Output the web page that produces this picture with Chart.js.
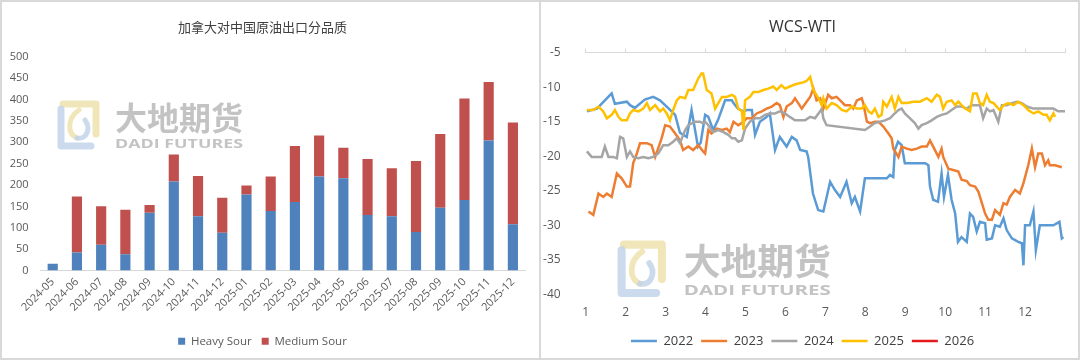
<!DOCTYPE html>
<html><head><meta charset="utf-8">
<script src="https://cdn.jsdelivr.net/npm/chart.js@4"></script>
<style>
html,body{margin:0;padding:0;background:#fff;overflow:hidden}
#wrap{position:relative;width:1080px;height:361px;background:#fff}
canvas{position:absolute;top:0}
.frame{position:absolute;border:2px solid #d9d9d9;box-sizing:border-box;pointer-events:none}
</style></head><body>
<div id="wrap">
<canvas id="c1" width="540" height="361" style="left:0"></canvas>
<canvas id="c2" width="540" height="361" style="left:540px"></canvas>
<div class="frame" style="left:0;top:0;width:541px;height:360px"></div>
<div class="frame" style="left:539px;top:0;width:541px;height:360px"></div>
</div>
<script>
// ---- Left chart data ----
const exportMonths = ['2024-05','2024-06','2024-07','2024-08','2024-09','2024-10','2024-11','2024-12','2025-01','2025-02','2025-03','2025-04','2025-05','2025-06','2025-07','2025-08','2025-09','2025-10','2025-11','2025-12'];
const heavySour  = [16,42,60,38,135,208,127,88,178,139,160,220,216,130,127,90,147,165,304,108];
const mediumSour = [0,131,90,104,18,63,94,82,21,81,131,96,71,131,112,166,172,237,137,238];

// ---- Right chart data (x = month position, y = WCS-WTI spread) ----
const monthLabels = ['1','2','3','4','5','6','7','8','9','10','11','12'];
const wcs2022 = [[1.03,-13.5],[1.28,-13.1],[1.65,-10.9],[1.73,-12.4],[2.03,-12.1],[2.11,-12.6],[2.23,-13.0],[2.48,-11.8],[2.69,-11.4],[2.86,-11.9],[3.06,-13.0],[3.24,-14.0],[3.36,-16.6],[3.53,-17.2],[3.65,-13.3],[3.81,-18.6],[3.88,-18.0],[3.99,-14.0],[4.07,-14.3],[4.19,-16.2],[4.31,-14.8],[4.49,-11.9],[4.66,-11.9],[4.70,-12.3],[4.81,-13.1],[4.94,-13.5],[5.03,-13.3],[5.16,-13.3],[5.24,-16.9],[5.36,-15.0],[5.53,-14.3],[5.61,-13.8],[5.74,-19.1],[5.86,-17.2],[6.03,-18.6],[6.16,-17.2],[6.28,-17.7],[6.37,-19.1],[6.53,-19.3],[6.57,-20.1],[6.69,-25.4],[6.82,-27.8],[6.95,-28.0],[7.12,-23.7],[7.24,-24.9],[7.37,-25.9],[7.53,-23.7],[7.66,-26.8],[7.74,-25.9],[7.87,-28.0],[7.99,-23.2],[8.16,-23.2],[8.37,-23.2],[8.54,-23.2],[8.62,-22.7],[8.70,-23.0],[8.74,-19.1],[8.82,-17.9],[8.91,-18.4],[8.99,-21.0],[9.12,-21.0],[9.29,-21.0],[9.50,-21.0],[9.58,-21.3],[9.62,-24.4],[9.70,-26.3],[9.82,-26.6],[9.91,-22.5],[9.97,-25.9],[10.07,-22.7],[10.16,-26.3],[10.25,-28.3],[10.32,-32.4],[10.41,-31.7],[10.54,-32.4],[10.62,-28.3],[10.70,-28.8],[10.79,-30.9],[10.87,-29.5],[11.00,-29.7],[11.04,-32.1],[11.17,-31.9],[11.25,-30.0],[11.37,-30.2],[11.46,-29.0],[11.54,-30.7],[11.67,-31.9],[11.83,-32.4],[11.92,-32.6],[11.96,-35.8],[12.00,-30.0],[12.12,-30.0],[12.21,-28.0],[12.27,-33.6],[12.37,-30.0],[12.54,-30.0],[12.71,-30.0],[12.86,-29.5],[12.92,-31.9],[12.96,-31.7]];
const wcs2023 = [[1.07,-28.0],[1.19,-28.5],[1.32,-25.4],[1.44,-25.9],[1.53,-25.4],[1.65,-25.9],[1.78,-22.5],[1.90,-23.2],[2.03,-24.4],[2.11,-24.4],[2.19,-21.0],[2.28,-19.6],[2.36,-18.1],[2.53,-18.1],[2.65,-18.4],[2.74,-20.1],[2.86,-18.1],[2.90,-17.4],[2.99,-15.5],[3.11,-15.7],[3.24,-16.7],[3.36,-17.7],[3.44,-19.1],[3.57,-18.6],[3.69,-19.1],[3.82,-18.4],[3.94,-19.3],[3.99,-19.6],[4.07,-16.2],[4.15,-16.7],[4.28,-16.0],[4.41,-16.2],[4.53,-16.0],[4.61,-16.5],[4.70,-15.0],[4.82,-15.5],[4.95,-15.0],[5.03,-14.5],[5.16,-14.5],[5.28,-13.8],[5.41,-13.5],[5.53,-13.1],[5.66,-12.8],[5.78,-12.3],[5.86,-12.6],[5.95,-14.3],[6.03,-12.8],[6.16,-12.3],[6.24,-11.6],[6.32,-12.3],[6.41,-13.1],[6.53,-12.1],[6.62,-11.4],[6.70,-10.2],[6.78,-11.9],[6.87,-11.6],[6.95,-13.1],[7.07,-11.1],[7.16,-11.6],[7.28,-11.4],[7.37,-11.9],[7.49,-12.6],[7.62,-12.6],[7.70,-13.1],[7.79,-11.9],[7.91,-11.6],[7.95,-12.3],[8.04,-15.0],[8.12,-15.2],[8.24,-15.0],[8.33,-15.0],[8.45,-15.7],[8.58,-16.7],[8.66,-17.4],[8.70,-18.9],[8.83,-20.1],[8.91,-18.6],[9.04,-18.9],[9.16,-19.1],[9.29,-18.9],[9.41,-18.6],[9.54,-18.6],[9.62,-17.7],[9.70,-18.6],[9.83,-20.1],[9.91,-18.9],[9.95,-20.1],[10.08,-21.8],[10.20,-22.0],[10.33,-22.2],[10.41,-23.4],[10.54,-23.6],[10.62,-24.2],[10.75,-24.4],[10.83,-25.1],[10.91,-26.6],[11.00,-28.3],[11.08,-29.2],[11.17,-29.2],[11.25,-27.8],[11.37,-28.5],[11.46,-26.8],[11.54,-27.0],[11.62,-25.9],[11.75,-24.9],[11.87,-25.4],[11.96,-23.9],[12.08,-21.3],[12.17,-18.9],[12.25,-21.6],[12.33,-19.6],[12.42,-19.6],[12.50,-21.3],[12.58,-20.6],[12.62,-21.3],[12.75,-21.3],[12.92,-21.6]];
const wcs2024 = [[1.03,-19.3],[1.15,-20.1],[1.28,-20.1],[1.40,-20.1],[1.48,-18.6],[1.57,-20.1],[1.69,-20.1],[1.78,-20.3],[1.86,-17.2],[1.94,-17.4],[2.03,-20.1],[2.11,-19.3],[2.19,-20.1],[2.32,-20.3],[2.44,-20.1],[2.57,-20.3],[2.69,-20.1],[2.82,-19.6],[2.94,-18.4],[3.07,-18.4],[3.19,-17.9],[3.28,-17.4],[3.36,-18.1],[3.49,-16.2],[3.57,-15.5],[3.74,-15.0],[3.86,-15.0],[3.94,-15.2],[3.99,-15.0],[4.07,-15.5],[4.19,-16.5],[4.32,-16.2],[4.45,-16.5],[4.57,-16.9],[4.66,-17.4],[4.74,-17.4],[4.82,-17.9],[4.91,-17.7],[4.99,-16.0],[5.11,-15.0],[5.24,-14.5],[5.36,-14.5],[5.49,-14.0],[5.61,-13.8],[5.74,-13.8],[5.86,-13.5],[5.99,-13.8],[6.11,-14.3],[6.24,-14.8],[6.37,-14.8],[6.49,-14.8],[6.62,-14.3],[6.74,-14.5],[6.87,-13.5],[6.91,-13.1],[6.95,-14.5],[7.03,-15.5],[7.99,-16.2],[8.12,-15.7],[8.24,-15.2],[8.37,-15.0],[8.49,-14.8],[8.62,-14.5],[8.70,-14.0],[8.83,-13.3],[8.91,-13.1],[8.99,-13.8],[9.12,-14.5],[9.24,-15.2],[9.33,-16.0],[9.41,-15.5],[9.54,-15.2],[9.66,-14.8],[9.79,-14.3],[9.91,-14.0],[10.04,-13.8],[10.16,-13.3],[10.29,-12.8],[10.41,-12.8],[10.54,-13.1],[10.66,-12.6],[10.79,-12.6],[10.87,-12.6],[10.95,-14.5],[11.04,-13.1],[11.12,-13.5],[11.21,-13.3],[11.33,-15.0],[11.42,-12.6],[11.54,-12.6],[11.67,-12.3],[11.79,-12.1],[11.92,-12.3],[12.04,-12.8],[12.21,-13.1],[12.37,-13.1],[12.54,-13.1],[12.71,-13.1],[12.83,-13.5],[13.0,-13.5]];
const wcs2025 = [[1.03,-13.3],[1.19,-13.3],[1.32,-12.8],[1.44,-13.5],[1.53,-14.5],[1.65,-14.0],[1.73,-13.3],[1.82,-14.3],[1.90,-14.8],[2.03,-14.8],[2.11,-13.8],[2.19,-13.3],[2.32,-13.5],[2.44,-13.1],[2.53,-12.3],[2.61,-13.3],[2.74,-12.6],[2.86,-13.5],[2.94,-13.1],[3.03,-13.8],[3.11,-14.8],[3.19,-13.3],[3.28,-11.9],[3.36,-11.4],[3.49,-11.6],[3.57,-10.4],[3.69,-10.4],[3.82,-8.7],[3.90,-8.0],[3.94,-8.0],[4.03,-10.4],[4.15,-10.9],[4.24,-13.1],[4.32,-12.3],[4.41,-11.4],[4.53,-11.4],[4.66,-11.1],[4.74,-11.4],[4.82,-13.1],[4.91,-13.5],[4.95,-16.2],[4.99,-11.9],[5.11,-11.4],[5.20,-10.7],[5.32,-10.7],[5.45,-10.4],[5.57,-10.2],[5.70,-9.9],[5.78,-10.4],[5.90,-9.7],[5.99,-10.2],[6.11,-9.9],[6.24,-9.6],[6.37,-9.4],[6.45,-9.3],[6.53,-9.1],[6.62,-8.5],[6.70,-10.4],[6.83,-11.6],[6.91,-12.6],[6.95,-11.6],[7.03,-13.1],[7.16,-12.3],[7.28,-12.6],[7.41,-13.3],[7.53,-13.5],[7.66,-12.8],[7.79,-13.1],[7.91,-13.1],[7.99,-12.6],[8.08,-13.5],[8.16,-13.8],[8.24,-13.1],[8.33,-14.3],[8.41,-14.0],[8.45,-12.1],[8.54,-12.8],[8.66,-11.4],[8.74,-13.1],[8.83,-11.4],[8.91,-12.3],[9.04,-12.3],[9.20,-12.1],[9.37,-12.1],[9.54,-11.6],[9.66,-12.1],[9.79,-11.1],[9.87,-11.4],[9.95,-13.1],[10.04,-12.1],[10.16,-11.9],[10.25,-12.6],[10.33,-12.1],[10.41,-12.6],[10.50,-13.1],[10.62,-13.5],[10.70,-10.9],[10.79,-10.9],[10.87,-12.3],[10.95,-12.6],[11.04,-11.1],[11.12,-12.1],[11.21,-12.3],[11.29,-12.8],[11.37,-13.3],[11.46,-12.6],[11.58,-12.3],[11.71,-12.6],[11.83,-12.1],[11.96,-12.6],[12.08,-13.3],[12.21,-13.8],[12.33,-13.5],[12.46,-14.0],[12.54,-14.0],[12.62,-14.8],[12.71,-13.8],[12.75,-14.3]];
const wcs2026 = [];

Chart.defaults.font.family = "'Open Sans','Noto Sans CJK SC',sans-serif";
Chart.defaults.color = '#595959';

function drawWatermark(ctx, x, y, k) {
  ctx.save();
  ctx.translate(x, y); ctx.scale(k, k);
  ctx.lineCap = 'round'; ctx.lineJoin = 'round';
  ctx.lineWidth = 7;
  ctx.strokeStyle = 'rgba(238,224,168,0.8)';
  ctx.beginPath(); ctx.moveTo(6, 4); ctx.lineTo(39, 4); ctx.lineTo(39, 34); ctx.stroke();
  ctx.strokeStyle = 'rgba(190,210,232,0.8)';
  ctx.beginPath(); ctx.moveTo(4, 9); ctx.lineTo(4, 46); ctx.lineTo(34, 46); ctx.stroke();
  ctx.lineWidth = 5;
  ctx.strokeStyle = 'rgba(238,224,168,0.8)';
  ctx.beginPath(); ctx.moveTo(22, 10); ctx.bezierCurveTo(10, 18, 10, 34, 20, 38); ctx.stroke();
  ctx.strokeStyle = 'rgba(190,210,232,0.8)';
  ctx.beginPath(); ctx.moveTo(20, 38); ctx.bezierCurveTo(30, 40, 34, 28, 28, 20); ctx.stroke();
  ctx.fillStyle = 'rgba(185,185,185,0.85)';
  ctx.font = 'bold 32px "Noto Sans CJK SC"';
  ctx.textBaseline = 'alphabetic'; ctx.textAlign = 'left';
  ctx.fillText('大地期货', 58, 30, 128);
  ctx.font = 'bold 13px "Open Sans"';
  const w = ctx.measureText('DADI FUTURES').width;
  ctx.translate(58, 48); ctx.scale(128 / w, 1);
  ctx.fillText('DADI FUTURES', 0, 0);
  ctx.restore();
}
const watermark = {
  id: 'wm',
  beforeDatasetsDraw(chart, args, opts) { drawWatermark(chart.ctx, opts.x, opts.y, opts.k); }
};

new Chart(document.getElementById('c1'), {
  type: 'bar',
  data: {
    labels: exportMonths,
    datasets: [
      {label: 'Heavy Sour', data: heavySour, backgroundColor: '#4F81BD', stack: 's'},
      {label: 'Medium Sour', data: mediumSour, backgroundColor: '#C0504D', stack: 's'}
    ]
  },
  options: {
    responsive: false, animation: false,
    layout: {padding: {left: 0, right: 15, top: 0, bottom: 4}},
    datasets: {bar: {categoryPercentage: 1, barPercentage: 0.42}},
    scales: {
      x: {stacked: true, grid: {display: false, drawTicks: false},
          border: {display: true, color: '#d9d9d9', width: 1},
          ticks: {minRotation: 45, maxRotation: 45, autoSkip: false, font: {size: 11}, color: '#595959', padding: 5},
          afterFit: s => { s.height = 55; }},
      y: {stacked: true, min: 0, max: 500,
          ticks: {stepSize: 50, font: {size: 11}, color: '#595959', padding: 12},
          grid: {display: false, drawTicks: false}, border: {display: false},
          afterFit: s => { s.width = 40.6; }}
    },
    plugins: {
      title: {display: true, text: '加拿大对中国原油出口分品质', font: {size: 13, weight: 'normal'}, color: '#404040', padding: {top: 20, bottom: 21.1}},
      legend: {position: 'bottom', labels: {boxWidth: 7, boxHeight: 7, font: {size: 11.5}, color: '#595959', padding: 10}},
      tooltip: {enabled: false},
      wm: {x: 57, y: 100, k: 1}
    }
  },
  plugins: [watermark]
});

const toPts = arr => arr.map(p => ({x: p[0], y: p[1]}));
const lineDs = (label, arr, color, order) => ({label, data: toPts(arr), borderColor: color, backgroundColor: color, borderWidth: 2.5, pointRadius: 0, tension: 0, fill: false, order});

new Chart(document.getElementById('c2'), {
  type: 'line',
  data: {
    datasets: [
      lineDs('2022', wcs2022, '#5B9BD5', 5),
      lineDs('2023', wcs2023, '#ED7D31', 4),
      lineDs('2024', wcs2024, '#A5A5A5', 3),
      lineDs('2025', wcs2025, '#FFC000', 2),
      lineDs('2026', wcs2026, '#E41A1C', 1)
    ]
  },
  options: {
    responsive: false, animation: false,
    layout: {padding: {left: 0, right: 15, top: 0, bottom: 3.5}},
    scales: {
      x: {type: 'linear', position: 'bottom', min: 1, max: 13,
          ticks: {stepSize: 1, autoSkip: false, maxRotation: 0, font: {size: 12}, color: '#595959', padding: 11,
                  callback: v => monthLabels[Math.round(v) - 1] ?? ''},
          grid: {display: false, drawTicks: false}, border: {display: false},
          afterFit: s => { s.height = 32.2; }},
      x2: {type: 'linear', position: 'top', min: 1, max: 13,
           ticks: {stepSize: 1, display: false},
           grid: {display: true, drawOnChartArea: false, drawTicks: true, tickLength: 4, color: '#d9d9d9'},
           border: {display: false},
           afterFit: s => { s.height = 0; }},
      y: {min: -40, max: -5,
          ticks: {stepSize: 5, font: {size: 12}, color: '#595959', padding: 25},
          grid: {drawTicks: false, color: c => (c.tick && c.tick.value === -5) ? '#d9d9d9' : 'rgba(0,0,0,0)'},
          border: {display: false},
          afterFit: s => { s.width = 45.7; }}
    },
    plugins: {
      title: {display: true, text: 'WCS-WTI', font: {size: 16, weight: 'normal'}, color: '#333333', padding: {top: 17.4, bottom: 16.1}},
      legend: {position: 'bottom', labels: {usePointStyle: true, pointStyle: 'line', pointStyleWidth: 26, font: {size: 13}, color: '#404040', padding: 8,
               sort: (a, b) => a.datasetIndex - b.datasetIndex}},
      tooltip: {enabled: false},
      wm: {x: 77, y: 240, k: 1.15}
    }
  },
  plugins: [watermark]
});
</script>
</body></html>
